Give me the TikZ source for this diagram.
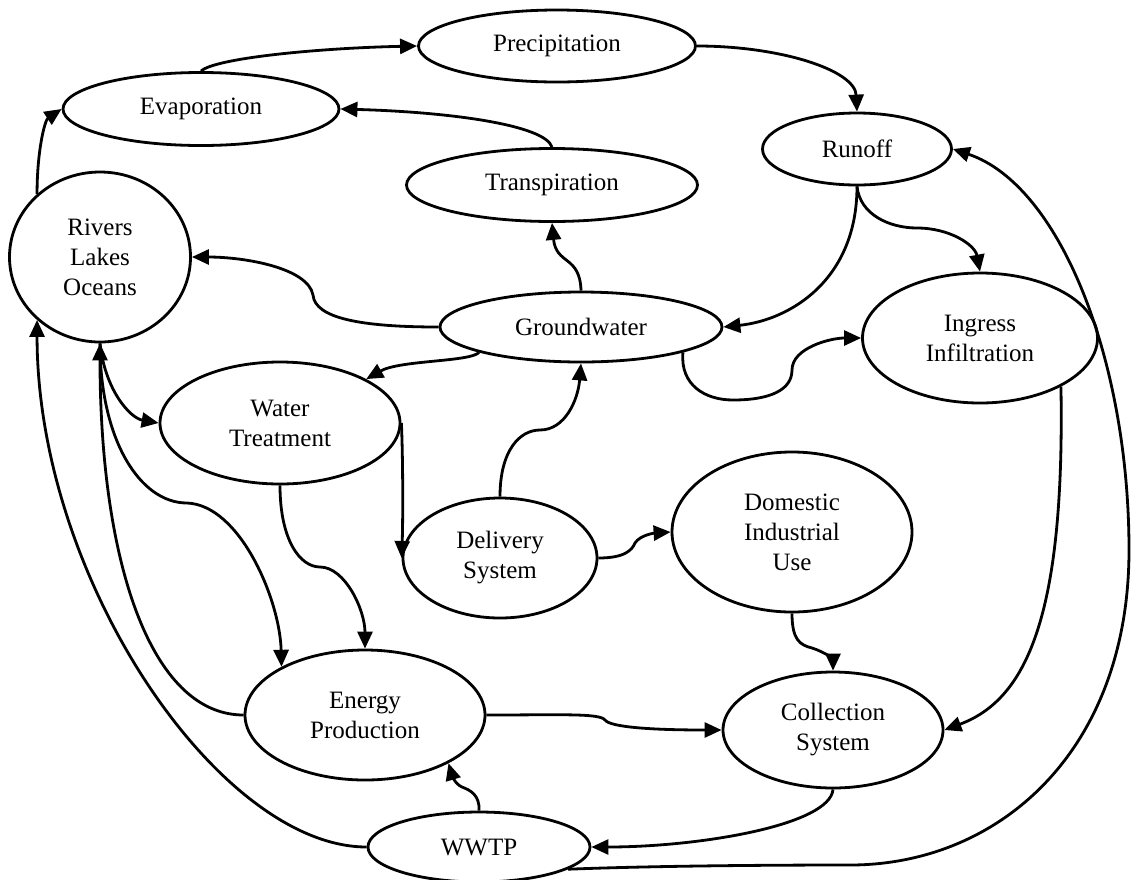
\documentclass[tikz,border=0pt]{standalone}
\usepackage{fontspec}
\setmainfont{Liberation Serif}
\usetikzlibrary{shapes.geometric,arrows.meta}
\tikzset{
  proc/.style={ellipse, draw, line width=2.8pt, inner sep=0pt, align=center,
    font=\fontsize{25}{30}\selectfont},
  flow/.style={line width=2.8pt, -{Triangle[length=17pt,width=15pt]}},
}
\begin{document}
\begin{tikzpicture}[x=1pt,y=-1pt]
\useasboundingbox (0,0) rectangle (1132,879);
\clip (0,0) rectangle (1132,879);
% nodes
\node[proc, minimum width=277pt, minimum height=72pt] (precip) at (557,46) {Precipitation};
\node[proc, minimum width=276pt, minimum height=73pt] (evap) at (201,109) {Evaporation};
\node[proc, minimum width=189pt, minimum height=72pt] (runoff) at (857,149) {Runoff};
\node[proc, minimum width=291pt, minimum height=73pt] (transp) at (552,185) {Transpiration};
\node[proc, minimum width=181pt, minimum height=170pt] (rivers) at (100,257) {Rivers\\Lakes\\Oceans};
\node[proc, minimum width=282pt, minimum height=70pt] (gw) at (581,327) {Groundwater};
\node[proc, minimum width=235pt, minimum height=130pt] (ingress) at (980,338) {Ingress\\Infiltration};
\node[proc, minimum width=240pt, minimum height=122pt] (wt) at (280,423) {Water\\Treatment};
\node[proc, minimum width=194pt, minimum height=120pt] (delivery) at (500,558) {Delivery\\System};
\node[proc, minimum width=240pt, minimum height=160pt] (domestic) at (792,532) {Domestic\\Industrial\\Use};
\node[proc, minimum width=240pt, minimum height=130pt] (energy) at (365,715) {Energy\\Production};
\node[proc, minimum width=220pt, minimum height=116pt] (collection) at (833,730) {Collection\\System};
\node[proc, minimum width=222pt, minimum height=70pt] (wwtp) at (479,847) {WWTP};
% connectors
\draw[flow] (evap.north) .. controls (215,58) and (320,48) .. (precip.west);
\draw[flow] (precip.east) .. controls (780,46) and (855,70) .. (runoff.north);
\draw[flow] (transp.north) .. controls (545,125) and (450,112) .. (evap.east);
\draw[flow] (gw.north) .. controls (580,255) and (556,265) .. (transp.south);
\draw[flow] (gw.west) .. controls (360,327) and (315,318) .. (313,295)
  .. controls (308,268) and (245,257) .. (rivers.east);
\draw[flow] (runoff.south) .. controls (857,280) and (790,320) .. (gw.east);
\draw[flow] (runoff.south) .. controls (860,215) and (890,228) .. (917,228)
  .. controls (950,228) and (975,245) .. (ingress.north);
\draw[flow] (gw.-14) .. controls (680,385) and (705,400) .. (733,400)
  .. controls (770,400) and (792,390) .. (792,370)
  .. controls (792,348) and (830,338) .. (ingress.west);
\draw[flow] (ingress.-31) .. controls (1065,620) and (1025,700) .. (collection.east);
\draw[flow] (wwtp.-14) .. controls (650,866) and (760,865) .. (850,865)
  .. controls (1000,865) and (1129,750) .. (1129,550)
  .. controls (1129,360) and (1060,185) .. (runoff.east);
\draw[flow] (energy.east) .. controls (560,715) and (600,713) .. (605,720)
  .. controls (610,727) and (650,730) .. (collection.west);
\draw[flow] (domestic.south) .. controls (792,640) and (800,645) .. (812,648)
  .. controls (825,652) and (833,660) .. (collection.north);
\draw[flow] (delivery.east) .. controls (625,558) and (632,550) .. (635,543)
  .. controls (640,535) and (655,533) .. (domestic.west);
\draw[flow] (delivery.north) .. controls (500,450) and (520,430) .. (540,430)
  .. controls (565,430) and (578,400) .. (gw.south);
\draw[flow] (gw.194) .. controls (470,362) and (400,360) .. (wt.27);
\draw[flow] (wt.east) .. controls (403,460) and (403,520) .. (delivery.west);
\draw[flow] (wt.south) .. controls (280,540) and (300,567) .. (320,567)
  .. controls (345,567) and (365,610) .. (energy.north);
\draw[flow] (rivers.south) .. controls (105,390) and (130,418) .. (wt.west);
\draw[flow] (rivers.south) .. controls (100,440) and (140,503) .. (187,503)
  .. controls (240,505) and (280,600) .. (energy.150);
\draw[flow] (energy.west) .. controls (150,715) and (100,560) .. (rivers.south);
\draw[flow] (wwtp.west) .. controls (220,847) and (37,580) .. (rivers.225);
\draw[flow] (rivers.135) .. controls (37,150) and (45,120) .. (evap.west);
\draw[flow] (wwtp.north) .. controls (480,795) and (470,790) .. (462,787)
  .. controls (455,784) and (452,775) .. (energy.-30);
\draw[flow] (collection.south) .. controls (830,825) and (700,847) .. (wwtp.east);
\end{tikzpicture}
\end{document}
